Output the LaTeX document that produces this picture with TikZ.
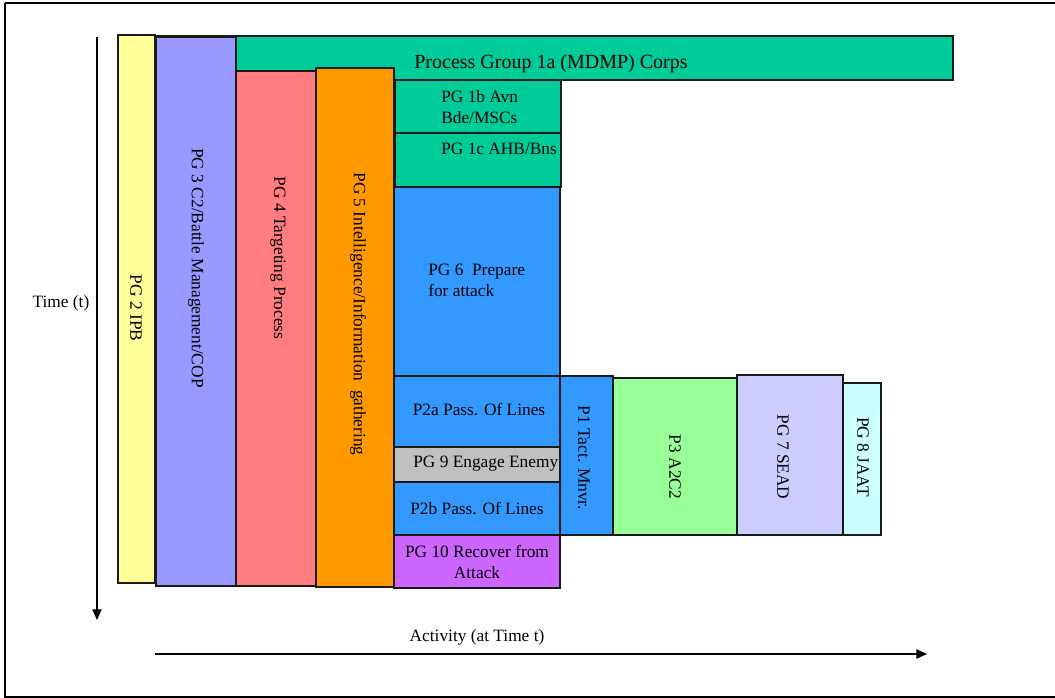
\documentclass[tikz,border=0pt]{standalone}
\usepackage{fontspec}
\setmainfont{Liberation Serif}
\usetikzlibrary{arrows.meta}

\definecolor{cYellow}{HTML}{FFFF99}
\definecolor{cPeri}{HTML}{9999FF}
\definecolor{cTeal}{HTML}{00CC99}
\definecolor{cRose}{HTML}{FF7C80}
\definecolor{cOrange}{HTML}{FF9900}
\definecolor{cBlue}{HTML}{3399FF}
\definecolor{cGrey}{HTML}{C0C0C0}
\definecolor{cViolet}{HTML}{CC66FF}
\definecolor{cMint}{HTML}{99FF99}
\definecolor{cLilac}{HTML}{CCCCFF}
\definecolor{cIce}{HTML}{CCFFFF}
\definecolor{cEdge}{HTML}{1A1A1A}

\tikzset{
  box/.style={draw=cEdge, line width=0.9pt},
  lbl/.style={inner sep=0pt, font=\fontsize{13}{15.6}\selectfont},
  vlbl/.style={lbl, rotate=-90},
  axis/.style={line width=0.8pt, -{Triangle[length=8pt,width=7pt]}}
}

\begin{document}
\begin{tikzpicture}[x=0.75pt,y=-0.75pt]
\useasboundingbox (0,0) rectangle (1055,698);

% outer frame (right side runs past the page edge)
\draw[line width=1.5pt] (4.5,3) -- (1075,3);
\draw[line width=1.5pt] (4.5,3) -- (4.5,697) -- (1075,697);

% top band: corps level
\draw[box, fill=cTeal] (155,36) rectangle (953,80);
\node[lbl, font=\fontsize{15}{18}\selectfont] (t1a) at (551,64) {Process Group 1a (MDMP) Corps};

% long-running process columns
\draw[box, fill=cYellow] (118,35) rectangle (155,583);
\node[vlbl] (t2) at (136,308) {PG 2 IPB};
\draw[box, fill=cPeri] (156,37) rectangle (236,586);
\node[vlbl] (t3) at (196,268) {PG 3 C2/Battle Management/COP};
\draw[box, fill=cRose] (236,71) rectangle (316,586);
\node[vlbl] (t4) at (278,258) {PG 4 Targeting Process};
\draw[box, fill=cOrange] (316,68) rectangle (394,587);
\node[vlbl] (t5) at (358,314) {PG 5 Intelligence/Information\ \ gathering};

% sequential column
\draw[box, fill=cTeal] (395,80) rectangle (561,133);
\node[lbl, anchor=west, align=left] (t1b) at (441,107) {PG 1b Avn\\Bde/MSCs};
\draw[box, fill=cTeal] (395,133) rectangle (561,187);
\node[lbl, anchor=west] (t1c) at (441,149) {PG 1c AHB/Bns};
\draw[box, fill=cBlue] (394,187) rectangle (560,376);
\node[lbl, anchor=west, align=left] (t6) at (428,280) {PG 6\ \ Prepare\\for attack};
\draw[box, fill=cBlue] (394,376) rectangle (560,447);
\node[lbl] (t2a) at (479,410) {P2a Pass. Of Lines};
\draw[box, fill=cGrey] (394,447) rectangle (560,482);
\node[lbl, anchor=west] (t9) at (413,464) {PG 9 Engage Enemy};
\draw[box, fill=cBlue] (394,482) rectangle (560,535);
\node[lbl] (t2b) at (477,509) {P2b Pass. Of Lines};
\draw[box, fill=cViolet] (394,535) rectangle (560,588);
\node[lbl, align=center] (t10) at (477,562) {PG 10 Recover from\\Attack};

% attack phase processes
\draw[box, fill=cBlue] (560,376) rectangle (613,535);
\node[vlbl] (tp1) at (584,458) {P1 Tact. Mnvr.};
\draw[box, fill=cMint] (613,378) rectangle (737,535);
\node[vlbl] (tp3) at (675,467) {P3 A2C2};
\draw[box, fill=cLilac] (737,375) rectangle (843,535);
\node[vlbl] (t7) at (783,457) {PG 7 SEAD};
\draw[box, fill=cIce] (843,383) rectangle (881,535);
\node[vlbl] (t8) at (863,457) {PG 8 JAAT};

% axes
\coordinate (tTop) at (97,37);
\coordinate (tEnd) at (97,620);
\draw[axis] (tTop) -- (tEnd);
\node[lbl] (tlab) at (61,303) {Time (t)};

\coordinate (aStart) at (155,654);
\coordinate (aEnd) at (927,654);
\draw[axis] (aStart) -- (aEnd);
\node[lbl] (alab) at (477,637) {Activity (at Time t)};
\end{tikzpicture}
\end{document}
